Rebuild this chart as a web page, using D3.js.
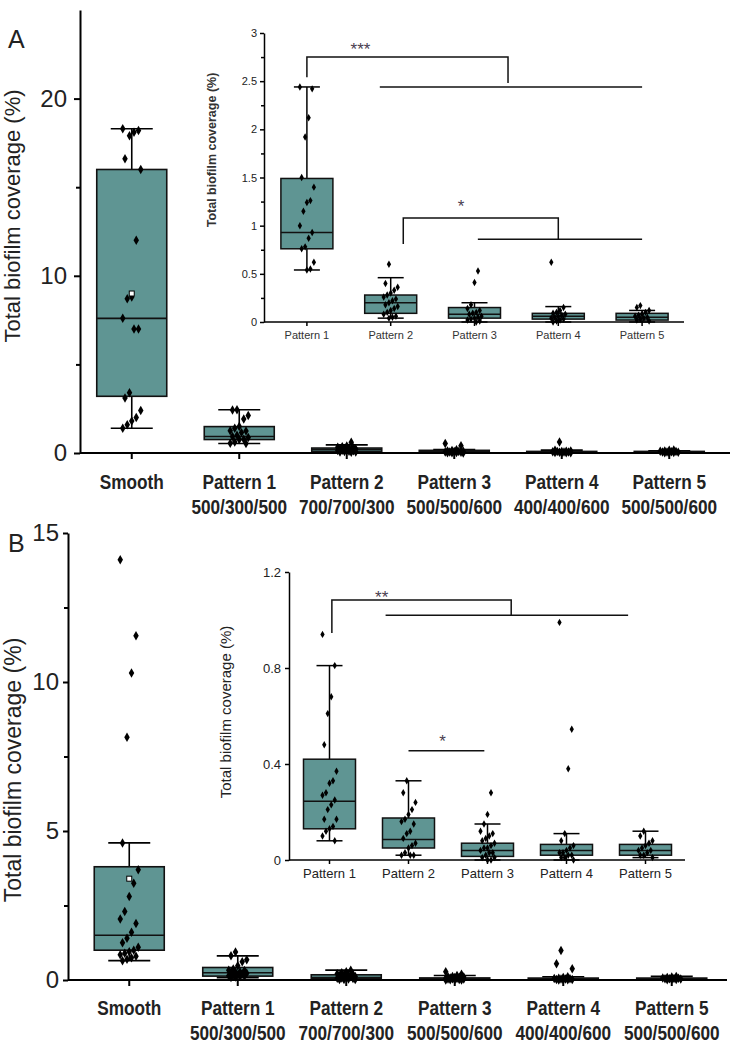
<!DOCTYPE html>
<html><head><meta charset="utf-8">
<script src="https://cdn.jsdelivr.net/npm/d3@7"></script>
<style>body{margin:0;background:#fff}svg{display:block}</style>
</head><body>
<svg id="chart" width="733" height="1050"></svg>
<script>
// ---------- categories / labels ----------
const mainCategories = ["Smooth", "Pattern 1", "Pattern 2", "Pattern 3", "Pattern 4", "Pattern 5"];
const mainSubLabels = ["", "500/300/500", "700/700/300", "500/500/600", "400/400/600", "500/500/600"];
const insetCategories = ["Pattern 1", "Pattern 2", "Pattern 3", "Pattern 4", "Pattern 5"];
const yTicksMainA = [0, 10, 20];
const yMinorMainA = [5, 15];
const yTicksMainB = [0, 5, 10, 15];
const yMinorMainB = [2.5, 7.5, 12.5];
const yTicksInsetA = [0, 0.5, 1, 1.5, 2, 2.5, 3];
const yMinorInsetA = [0.25, 0.75, 1.25, 1.75, 2.25, 2.75];
const yTicksInsetB = [0, 0.4, 0.8, 1.2];

// ---------- panel A box statistics (Smooth, P1..P5) ----------
const lowA    = [1.4, 0.54, 0.04, 0.00, 0.00, 0.00];
const q1A     = [3.2, 0.76, 0.09, 0.04, 0.03, 0.02];
const medianA = [7.6, 0.93, 0.20, 0.08, 0.06, 0.05];
const q3A     = [16.0, 1.49, 0.28, 0.15, 0.09, 0.09];
const highA   = [18.3, 2.44, 0.46, 0.20, 0.16, 0.12];
const meanSmoothA = 9.0;
// panel A points
const smoothA = [18.3, 18.2, 18.1, 17.9, 16.6, 16.0, 12.0, 8.8, 8.7, 7.6, 7.0, 7.0, 3.4, 3.1, 2.4, 2.0, 1.8, 1.6, 1.4];
const p1A = [2.44, 2.42, 2.12, 1.92, 1.50, 1.40, 1.26, 1.24, 1.15, 1.00, 0.93, 0.87, 0.78, 0.76, 0.62, 0.55, 0.54];
const p2A = [0.60, 0.40, 0.36, 0.33, 0.30, 0.28, 0.26, 0.24, 0.22, 0.20, 0.18, 0.16, 0.14, 0.12, 0.10, 0.08, 0.06, 0.05, 0.04];
const p3A = [0.53, 0.41, 0.18, 0.14, 0.12, 0.10, 0.09, 0.08, 0.06, 0.05, 0.04, 0.03, 0.02, 0.01, 0.00];
const p4A = [0.62, 0.15, 0.12, 0.10, 0.09, 0.08, 0.07, 0.06, 0.05, 0.04, 0.03, 0.02, 0.01, 0.00];
const p5A = [0.17, 0.15, 0.12, 0.10, 0.08, 0.07, 0.06, 0.05, 0.04, 0.03, 0.02, 0.01];

// ---------- panel B box statistics ----------
const lowB    = [0.65, 0.08, 0.02, 0.00, 0.00, 0.01];
const q1B     = [1.0, 0.13, 0.05, 0.015, 0.02, 0.02];
const medianB = [1.5, 0.245, 0.085, 0.04, 0.04, 0.04];
const q3B     = [3.8, 0.42, 0.175, 0.07, 0.065, 0.065];
const highB   = [4.6, 0.81, 0.33, 0.15, 0.11, 0.12];
const meanSmoothB = 3.4;
const smoothB = [14.1, 11.55, 10.3, 8.15, 4.6, 3.7, 3.25, 2.8, 2.3, 2.05, 1.9, 1.6, 1.4, 1.25, 1.1, 1.0, 0.95, 0.9, 0.85, 0.8, 0.75, 0.7, 0.65];
const p1B = [0.94, 0.81, 0.68, 0.61, 0.48, 0.37, 0.33, 0.32, 0.28, 0.27, 0.25, 0.23, 0.21, 0.17, 0.17, 0.14, 0.13, 0.12, 0.10, 0.08];
const p2B = [0.33, 0.28, 0.24, 0.21, 0.19, 0.17, 0.16, 0.15, 0.12, 0.11, 0.09, 0.07, 0.06, 0.05, 0.03, 0.02, 0.02, 0.02];
const p3B = [0.28, 0.19, 0.15, 0.12, 0.11, 0.10, 0.09, 0.08, 0.07, 0.06, 0.05, 0.05, 0.04, 0.03, 0.03, 0.02, 0.01, 0.01, 0.00, 0.00];
const p4B = [0.99, 0.545, 0.38, 0.11, 0.08, 0.06, 0.05, 0.04, 0.03, 0.03, 0.02, 0.02, 0.01, 0.01, 0.00];
const p5B = [0.12, 0.10, 0.08, 0.07, 0.06, 0.05, 0.04, 0.04, 0.03, 0.02, 0.02, 0.01];

// significance annotations (category index positions, value heights)
const sigA = [
  {label: "***", left: 0, leftFrom: 2.54, top: 2.75, mid: 2.4, midTo: 2.48, lineFrom: 0.87, lineTo: 4, lineY: 2.44, textX: 0.64, textY: 2.87},
  {label: "*", left: 1.15, leftFrom: 0.81, top: 1.08, mid: 3.0, midTo: 0.86, lineFrom: 2.04, lineTo: 4, lineY: 0.86, textX: 1.84, textY: 1.24}
];
const sigB = [
  {label: "**", left: 0.03, leftFrom: 0.946, top: 1.083, mid: 2.3, midTo: 1.02, lineFrom: 0.71, lineTo: 3.78, lineY: 1.02, textX: 0.66, textY: 1.108},
  {label: "*", left: null, lineFrom: 1.0, lineTo: 1.96, lineY: 0.455, textX: 1.43, textY: 0.51}
];

// ---------- drawing ----------
const svg = d3.select("#chart");
const FILL = "#5f9593";
const FONT = "'Liberation Sans', Arial, Helvetica, sans-serif";

function drawBoxes(g, x, y, cats, lo, q1, med, q3, hi, pts, o) {
  const bw = o.boxWidth, cw = bw * o.capRatio;
  cats.forEach((c, i) => {
    const cx = x(c) + x.bandwidth() / 2;
    const gg = g.append("g");
    gg.append("line").attr("x1", cx).attr("x2", cx).attr("y1", y(q3[i])).attr("y2", y(hi[i]))
      .attr("stroke", "#000").attr("stroke-width", o.sw);
    gg.append("line").attr("x1", cx).attr("x2", cx).attr("y1", y(q1[i])).attr("y2", y(lo[i]))
      .attr("stroke", "#000").attr("stroke-width", o.sw);
    [hi[i], lo[i]].forEach(v => gg.append("line").attr("x1", cx - cw / 2).attr("x2", cx + cw / 2)
      .attr("y1", y(v)).attr("y2", y(v)).attr("stroke", "#000").attr("stroke-width", o.sw));
    gg.append("rect").attr("x", cx - bw / 2).attr("width", bw)
      .attr("y", y(q3[i])).attr("height", Math.max(0.5, y(q1[i]) - y(q3[i])))
      .attr("fill", FILL).attr("stroke", "#111").attr("stroke-width", o.sw);
    gg.append("line").attr("x1", cx - bw / 2).attr("x2", cx + bw / 2)
      .attr("y1", y(med[i])).attr("y2", y(med[i])).attr("stroke", "#111").attr("stroke-width", o.sw);
    const sym = d3.symbol().type(d3.symbolDiamond).size(o.symSize);
    pts[i].forEach((v, j) => {
      const off = (((j * 7 + i * 3) % 9) - 4) / 4 * o.jitter;
      gg.append("path").attr("d", sym).attr("transform", `translate(${cx + off},${y(v)})`).attr("fill", "#000");
    });
  });
}

function drawYAxis(g, y, ax, major, minor, o) {
  const a = g.append("g").attr("transform", `translate(${ax},0)`)
    .call(d3.axisLeft(y).tickValues(major).tickSize(o.tick).tickSizeOuter(0).tickPadding(o.pad).tickFormat(o.fmt));
  a.selectAll("path,line").attr("stroke", "#000").attr("stroke-width", o.sw);
  a.selectAll("text").attr("font-family", FONT).attr("font-size", o.fs).attr("fill", o.color || "#222");
  if (minor) {
    const m = g.append("g").attr("transform", `translate(${ax},0)`)
      .call(d3.axisLeft(y).tickValues(minor).tickSize(o.minorTick).tickFormat(""));
    m.select(".domain").remove();
    m.selectAll("line").attr("stroke", "#000").attr("stroke-width", o.sw);
  }
}

function drawXAxis(g, x, y0, ax, endX, cats, o) {
  g.append("line").attr("x1", ax).attr("x2", endX).attr("y1", y0).attr("y2", y0)
    .attr("stroke", "#000").attr("stroke-width", o.sw);
  cats.forEach(c => {
    const cx = x(c) + x.bandwidth() / 2;
    g.append("line").attr("x1", cx).attr("x2", cx).attr("y1", y0).attr("y2", y0 + o.tick)
      .attr("stroke", "#000").attr("stroke-width", o.sw);
  });
}

function drawSig(g, x, y, cats, sig) {
  const step = x.step(), c0 = x(cats[0]) + x.bandwidth() / 2;
  const px = t => c0 + t * step;
  sig.forEach(s => {
    if (s.left !== null && s.left !== undefined) {
      g.append("path").attr("d",
        `M${px(s.left)},${y(s.leftFrom)}V${y(s.top)}H${px(s.mid)}V${y(s.midTo)}`)
        .attr("fill", "none").attr("stroke", "#111").attr("stroke-width", 1.5);
    }
    g.append("line").attr("x1", px(s.lineFrom)).attr("x2", px(s.lineTo))
      .attr("y1", y(s.lineY)).attr("y2", y(s.lineY)).attr("stroke", "#111").attr("stroke-width", 1.5);
    g.append("text").attr("x", px(s.textX)).attr("y", y(s.textY) + 9)
      .attr("text-anchor", "middle").attr("font-family", FONT).attr("font-size", 17)
      .attr("fill", "#4a4050").text(s.label);
  });
}

function mainLabels(g, x, cats, subs, y1, y2) {
  cats.forEach((c, i) => {
    const cx = x(c) + x.bandwidth() / 2;
    g.append("text").attr("transform", `translate(${cx},${y1}) scale(0.82,1)`)
      .attr("text-anchor", "middle").attr("font-family", FONT).attr("font-weight", "bold")
      .attr("font-size", 21).attr("fill", "#222").text(c);
    if (subs[i]) g.append("text").attr("transform", `translate(${cx},${y2}) scale(0.82,1)`)
      .attr("text-anchor", "middle").attr("font-family", FONT).attr("font-weight", "bold")
      .attr("font-size", 21).attr("fill", "#222").text(subs[i]);
  });
}

// ===== Panel A main =====
{
  const g = svg.append("g");
  const x = d3.scaleBand().domain(mainCategories).range([78, 723]);
  const y = d3.scaleLinear().domain([0, 25]).range([453, 10]);
  drawBoxes(g, x, y, mainCategories, lowA, q1A, medianA, q3A, highA,
    [smoothA, p1A, p2A, p3A, p4A, p5A], {boxWidth: 70, capRatio: 0.6, sw: 1.6, symSize: 26, jitter: 9});
  g.append("rect").attr("x", x("Smooth") + x.bandwidth() / 2 - 2.5).attr("y", y(meanSmoothA) - 2.5)
    .attr("width", 5).attr("height", 5).attr("fill", "#fff").attr("stroke", "#000").attr("stroke-width", 1);
  drawYAxis(g, y, 80, yTicksMainA, yMinorMainA, {tick: 6, minorTick: 4, pad: 7, sw: 2, fs: 24, fmt: d3.format("d")});
  drawXAxis(g, x, 453, 80, 730, mainCategories, {tick: 6, sw: 2});
  mainLabels(g, x, mainCategories, mainSubLabels, 489, 514);
  g.append("text").attr("transform", "translate(20,216) rotate(-90)").attr("text-anchor", "middle")
    .attr("font-family", FONT).attr("font-size", 22).attr("fill", "#222").text("Total biofilm coverage (%)");
  g.append("text").attr("x", 8).attr("y", 48).attr("font-family", FONT).attr("font-size", 25)
    .attr("fill", "#222").text("A");
}
// ===== Panel A inset =====
{
  const g = svg.append("g");
  const x = d3.scaleBand().domain(insetCategories).range([265, 684]);
  const y = d3.scaleLinear().domain([0, 3]).range([322, 33]);
  drawBoxes(g, x, y, insetCategories, lowA.slice(1), q1A.slice(1), medianA.slice(1), q3A.slice(1), highA.slice(1),
    [p1A, p2A, p3A, p4A, p5A], {boxWidth: 52, capRatio: 0.5, sw: 1.5, symSize: 16, jitter: 7});
  drawYAxis(g, y, 264, yTicksInsetA, yMinorInsetA, {tick: 4, minorTick: 3, pad: 3, sw: 1.5, fs: 11, fmt: d3.format("~g")});
  drawXAxis(g, x, 322, 264, 684, insetCategories, {tick: 4, sw: 1.5});
  insetCategories.forEach(c => g.append("text").attr("x", x(c) + x.bandwidth() / 2).attr("y", 339)
    .attr("text-anchor", "middle").attr("font-family", FONT).attr("font-size", 11).attr("fill", "#333").text(c));
  g.append("text").attr("transform", "translate(216,150) rotate(-90)").attr("text-anchor", "middle")
    .attr("font-family", FONT).attr("font-size", 12.5).attr("font-weight", "bold").attr("fill", "#333")
    .text("Total biofilm coverage (%)");
  drawSig(g, x, y, insetCategories, sigA);
}
// ===== Panel B main =====
{
  const g = svg.append("g");
  const x = d3.scaleBand().domain(mainCategories).range([75, 726]);
  const y = d3.scaleLinear().domain([0, 15]).range([980, 533]);
  drawBoxes(g, x, y, mainCategories, lowB, q1B, medianB, q3B, highB,
    [smoothB, p1B, p2B, p3B, p4B, p5B], {boxWidth: 70, capRatio: 0.6, sw: 1.6, symSize: 26, jitter: 9});
  g.append("rect").attr("x", x("Smooth") + x.bandwidth() / 2 - 2.5).attr("y", y(meanSmoothB) - 2.5)
    .attr("width", 5).attr("height", 5).attr("fill", "#fff").attr("stroke", "#000").attr("stroke-width", 1);
  drawYAxis(g, y, 68, yTicksMainB, yMinorMainB, {tick: 5, minorTick: 4, pad: 4, sw: 2, fs: 24, fmt: d3.format("d")});
  drawXAxis(g, x, 980, 68, 727, mainCategories, {tick: 6, sw: 2});
  mainLabels(g, x, mainCategories, mainSubLabels, 1015, 1040);
  g.append("text").attr("transform", "translate(21,770) rotate(-90)").attr("text-anchor", "middle")
    .attr("font-family", FONT).attr("font-size", 23).attr("fill", "#222").text("Total biofilm coverage (%)");
  g.append("text").attr("x", 8).attr("y", 552).attr("font-family", FONT).attr("font-size", 25)
    .attr("fill", "#222").text("B");
}
// ===== Panel B inset =====
{
  const g = svg.append("g");
  const x = d3.scaleBand().domain(insetCategories).range([290, 685]);
  const y = d3.scaleLinear().domain([0, 1.2]).range([860, 572]);
  drawBoxes(g, x, y, insetCategories, lowB.slice(1), q1B.slice(1), medianB.slice(1), q3B.slice(1), highB.slice(1),
    [p1B, p2B, p3B, p4B, p5B], {boxWidth: 52, capRatio: 0.5, sw: 1.5, symSize: 16, jitter: 7});
  drawYAxis(g, y, 289, yTicksInsetB, null, {tick: 4, pad: 4, sw: 1.5, fs: 13, fmt: d3.format("~g")});
  drawXAxis(g, x, 860, 289, 685, insetCategories, {tick: 4, sw: 1.5});
  insetCategories.forEach(c => g.append("text").attr("x", x(c) + x.bandwidth() / 2).attr("y", 878)
    .attr("text-anchor", "middle").attr("font-family", FONT).attr("font-size", 13).attr("fill", "#222").text(c));
  g.append("text").attr("transform", "translate(231,712) rotate(-90)").attr("text-anchor", "middle")
    .attr("font-family", FONT).attr("font-size", 15).attr("fill", "#222")
    .text("Total biofilm coverage (%)");
  drawSig(g, x, y, insetCategories, sigB);
}
</script>
</body></html>
